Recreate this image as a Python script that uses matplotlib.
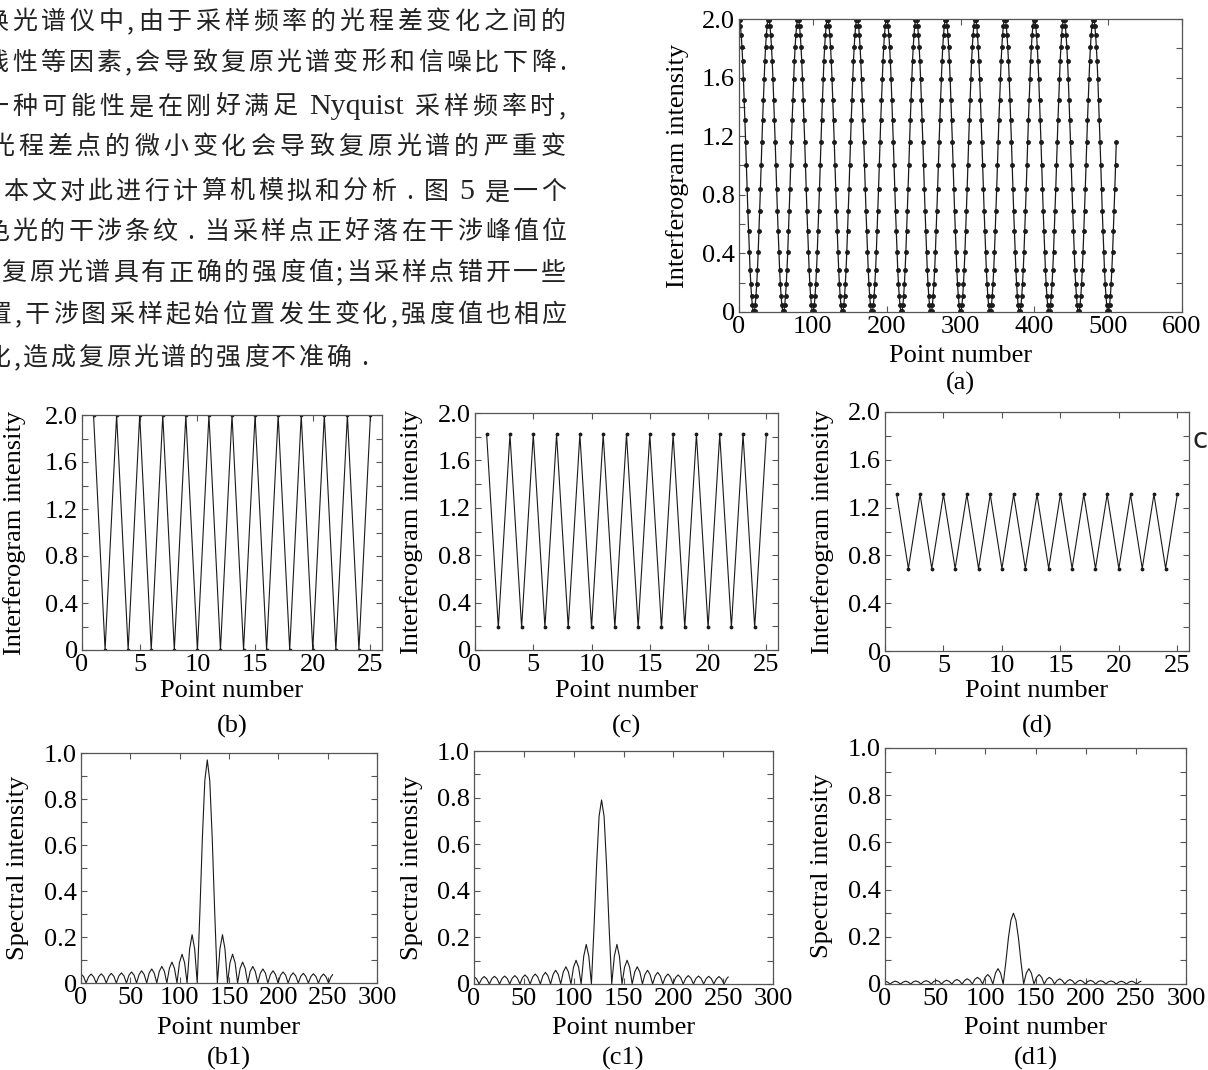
import re
import numpy as np
import matplotlib
matplotlib.use('Agg')
import matplotlib.pyplot as plt
from matplotlib.ticker import MultipleLocator, FuncFormatter

W, H = 1208, 1070
SERIF = 'Liberation Serif'
CJK = ['Noto Sans CJK SC', 'DejaVu Sans']
plt.rcParams['font.family'] = SERIF

# ---- data ----
# (a): one 40-sample period of the interferogram, repeated over 512 points
cycle_a = [2.00, 1.99, 1.95, 1.89, 1.81, 1.71, 1.59, 1.45, 1.31, 1.16,
           1.00, 0.84, 0.69, 0.55, 0.41, 0.29, 0.19, 0.11, 0.05, 0.01,
           0.00, 0.01, 0.05, 0.11, 0.19, 0.29, 0.41, 0.55, 0.69, 0.84,
           1.00, 1.16, 1.31, 1.45, 1.59, 1.71, 1.81, 1.89, 1.95, 1.99]
n_points_a = 512

# (b)(c)(d): 25 sample points
pts = list(range(1, 26))
ifg_b = [2.0, 0.0, 2.0, 0.0, 2.0, 0.0, 2.0, 0.0, 2.0, 0.0, 2.0, 0.0, 2.0,
         0.0, 2.0, 0.0, 2.0, 0.0, 2.0, 0.0, 2.0, 0.0, 2.0, 0.0, 2.0]
ifg_c = [1.82, 0.19, 1.82, 0.19, 1.82, 0.19, 1.82, 0.19, 1.82, 0.19, 1.82, 0.19, 1.82,
         0.19, 1.82, 0.19, 1.82, 0.19, 1.82, 0.19, 1.82, 0.19, 1.82, 0.19, 1.82]
ifg_d = [1.31, 0.69, 1.31, 0.69, 1.31, 0.69, 1.31, 0.69, 1.31, 0.69, 1.31, 0.69, 1.31,
         0.69, 1.31, 0.69, 1.31, 0.69, 1.31, 0.69, 1.31, 0.69, 1.31, 0.69, 1.31]

# (b1)(c1)(d1): recovered spectra
spec_x = [0, 2.6, 5.1,
          7.7, 10.2, 12.8, 15.4, 18.0, 20.5, 23.1, 25.6,
          28.2, 30.7, 33.3, 35.8, 38.4, 41.0, 43.5, 46.1,
          48.6, 51.2, 53.8, 56.3, 58.9, 61.4, 64.0, 66.6,
          69.1, 71.7, 74.2, 76.8, 79.4, 81.9, 84.5, 87.0,
          89.6, 92.2, 94.7, 97.3, 99.8, 102.4, 105.0, 107.5,
          110.1, 112.6, 115.2, 117.8,
          120.5, 123.0, 125.5, 128.0, 130.5, 133.0, 135.5, 138.2,
          140.8, 143.4, 145.9, 148.5, 151.0, 153.6, 156.2, 158.7,
          161.3, 163.8, 166.4, 169.0, 171.5, 174.1, 176.6, 179.2,
          181.8, 184.3, 186.9, 189.4, 192.0, 194.6, 197.1, 199.7,
          202.2, 204.8, 207.4, 209.9, 212.5, 215.0, 217.6, 220.2,
          222.7, 225.3, 227.8, 230.4, 233.0, 235.5, 238.1, 240.6,
          243.2, 245.8, 248.3, 250.9,
          253.4, 255.0]
spec_b1 = [0.039, 0.028, 0.0,
           0.027, 0.039, 0.027, 0.0, 0.028, 0.040, 0.028, 0.0,
           0.029, 0.042, 0.029, 0.0, 0.031, 0.044, 0.031, 0.0,
           0.034, 0.048, 0.034, 0.0, 0.037, 0.053, 0.037, 0.0,
           0.043, 0.061, 0.043, 0.0, 0.051, 0.072, 0.051, 0.0,
           0.064, 0.091, 0.064, 0.0, 0.088, 0.125, 0.088, 0.0,
           0.148, 0.210, 0.148, 0.0,
           0.31, 0.63, 0.88, 0.97, 0.88, 0.63, 0.31, 0.0,
           0.148, 0.210, 0.148, 0.0, 0.088, 0.125, 0.088, 0.0,
           0.064, 0.091, 0.064, 0.0, 0.051, 0.072, 0.051, 0.0,
           0.043, 0.061, 0.043, 0.0, 0.037, 0.053, 0.037, 0.0,
           0.034, 0.048, 0.034, 0.0, 0.031, 0.044, 0.031, 0.0,
           0.029, 0.042, 0.029, 0.0, 0.028, 0.040, 0.028, 0.0,
           0.027, 0.039, 0.027, 0.0,
           0.027, 0.036]
spec_c1 = [0.032, 0.022, 0.0,
           0.022, 0.032, 0.022, 0.0, 0.023, 0.033, 0.023, 0.0,
           0.024, 0.034, 0.024, 0.0, 0.025, 0.036, 0.025, 0.0,
           0.027, 0.039, 0.027, 0.0, 0.030, 0.043, 0.030, 0.0,
           0.035, 0.050, 0.035, 0.0, 0.041, 0.059, 0.041, 0.0,
           0.052, 0.074, 0.052, 0.0, 0.071, 0.102, 0.071, 0.0,
           0.119, 0.170, 0.119, 0.0,
           0.25, 0.51, 0.72, 0.79, 0.72, 0.51, 0.25, 0.0,
           0.119, 0.170, 0.119, 0.0, 0.071, 0.102, 0.071, 0.0,
           0.052, 0.074, 0.052, 0.0, 0.041, 0.059, 0.041, 0.0,
           0.035, 0.050, 0.035, 0.0, 0.030, 0.043, 0.030, 0.0,
           0.027, 0.039, 0.027, 0.0, 0.025, 0.036, 0.025, 0.0,
           0.024, 0.034, 0.024, 0.0, 0.023, 0.033, 0.023, 0.0,
           0.022, 0.032, 0.022, 0.0,
           0.022, 0.030]
spec_d1 = [0.012, 0.008, 0.0,
           0.008, 0.012, 0.008, 0.0, 0.008, 0.012, 0.008, 0.0,
           0.009, 0.013, 0.009, 0.0, 0.010, 0.014, 0.010, 0.0,
           0.011, 0.015, 0.011, 0.0, 0.011, 0.016, 0.011, 0.0,
           0.013, 0.019, 0.013, 0.0, 0.015, 0.022, 0.015, 0.0,
           0.020, 0.028, 0.020, 0.0, 0.028, 0.040, 0.028, 0.0,
           0.046, 0.065, 0.046, 0.0,
           0.095, 0.195, 0.27, 0.30, 0.27, 0.195, 0.095, 0.0,
           0.046, 0.065, 0.046, 0.0, 0.028, 0.040, 0.028, 0.0,
           0.020, 0.028, 0.020, 0.0, 0.015, 0.022, 0.015, 0.0,
           0.013, 0.019, 0.013, 0.0, 0.011, 0.016, 0.011, 0.0,
           0.011, 0.015, 0.011, 0.0, 0.010, 0.014, 0.010, 0.0,
           0.009, 0.013, 0.009, 0.0, 0.008, 0.012, 0.008, 0.0,
           0.008, 0.012, 0.008, 0.0,
           0.008, 0.011]

# body text to the left of (a): (text, left px, right px, centre y px)
body = [
    ('换光谱仪中,由于采样频率的光程差变化之间的', -17, 566, 22),
    ('线性等因素,会导致复原光谱变形和信噪比下降.', -16, 566, 63),
    ('一种可能性是在刚好满足 Nyquist 采样频率时,', -16, 566, 107),
    ('光程差点的微小变化会导致复原光谱的严重变', -11, 566, 147),
    ('本文对此进行计算机模拟和分析 . 图 5 是一个', 3, 566, 192),
    ('色光的干涉条纹 . 当采样点正好落在干涉峰值位', -16, 566, 232),
    ('复原光谱具有正确的强度值;当采样点错开一些', 1, 566, 273),
    ('置,干涉图采样起始位置发生变化,强度值也相应', -13, 566, 315),
    ('化,造成复原光谱的强度不准确 .', -14, 368, 358),
]
SPACE_PX = 7

LABEL_FS = 19
LINE_C = '#1a1a1a'
SPINE_C = '#555555'


def px_axes(l, r, t, b):
    return fig.add_axes([l / W, 1 - b / H, (r - l) / W, (b - t) / H])


def style(ax, xmax, xstep, ymax, ystep, yminor):
    ax.set_xlim(0, xmax)
    ax.set_ylim(0, ymax)
    ax.xaxis.set_major_locator(MultipleLocator(xstep))
    ax.yaxis.set_major_locator(MultipleLocator(ystep))
    ax.yaxis.set_minor_locator(MultipleLocator(yminor))
    ax.yaxis.set_major_formatter(FuncFormatter(lambda v, p: '0' if abs(v) < 1e-9 else f'{v:.1f}'))
    ax.xaxis.set_major_formatter(FuncFormatter(lambda v, p: f'{v:.0f}'))
    ax.tick_params(which='both', direction='in', top=True, right=True,
                   length=4, width=0.8, color=SPINE_C, labelsize=LABEL_FS, pad=3)
    for s in ax.spines.values():
        s.set_color(SPINE_C)
        s.set_linewidth(0.9)


def labels(l, r, t, b, ylab, ylab_x, xlab_y, tag, tag_y):
    cx = (l + r) / 2 / W
    fig.text(cx, 1 - xlab_y / H, 'Point number', ha='center', va='center', fontsize=LABEL_FS)
    fig.text(cx, 1 - tag_y / H, tag, ha='center', va='center', fontsize=LABEL_FS)
    fig.text(ylab_x / W, 1 - (t + b) / 2 / H, ylab, ha='center', va='center',
             rotation=90, fontsize=LABEL_FS)


fig = plt.figure(figsize=(W / 100, H / 100), dpi=100)
renderer = fig.canvas.get_renderer()

# ---- body text, justified between left and right edges ----
for line, x0, x1, yc in body:
    toks = re.findall(r'[A-Za-z0-9]+|\S| ', line)
    arts, extra = [], []
    pending = 0
    for tok in toks:
        if tok == ' ':
            pending += SPACE_PX
            continue
        if re.match(r'[A-Za-z0-9]', tok):
            fam, fs = [SERIF], 21.5
        else:
            fam, fs = CJK, 18
        arts.append(fig.text(0, 1 - yc / H, tok, fontsize=fs, family=fam,
                             color='#222222', ha='left', va='center'))
        extra.append(pending)
        pending = 0
    widths = [a.get_window_extent(renderer).width for a in arts]
    gap = (x1 - x0 - sum(widths) - sum(extra)) / max(len(arts) - 1, 1)
    x = x0
    for a, w, e in zip(arts, widths, extra):
        x += e
        a.set_x(x / W)
        x += w + gap

fig.text(1192 / W, 1 - 440 / H, 'c', fontsize=20, family='DejaVu Sans',
         ha='left', va='center', color='#222222')

# ---- (a) ----
x_a = np.arange(n_points_a)
y_a = np.tile(cycle_a, n_points_a // len(cycle_a) + 1)[:n_points_a]
ax = px_axes(739, 1182, 19, 312)
ax.plot(x_a, y_a, color=LINE_C, lw=0.9, marker='.', ms=5)
style(ax, 600, 100, 2.0, 0.4, 0.2)
labels(739, 1182, 19, 312, 'Interferogram intensity', 678, 356, '(a)', 383)

# ---- (b)(c)(d) ----
ifg_boxes = [(82, 382, 415, 650, 15), (475, 778, 413, 650, 412), (885, 1189, 412, 651, 823)]
for (l, r, t, b, yx), vals, tag in zip(ifg_boxes, [ifg_b, ifg_c, ifg_d], ['(b)', '(c)', '(d)']):
    ax = px_axes(l, r, t, b)
    ax.plot(pts, vals, color=LINE_C, lw=0.8, marker='.', ms=3.5)
    style(ax, 26, 5, 2.0, 0.4, 0.2)
    labels(l, r, t, b, 'Interferogram intensity', yx, 691, tag, 726)

# ---- (b1)(c1)(d1) ----
spec_boxes = [(81, 377, 753, 983, 18), (474, 773, 751, 984, 412), (885, 1186, 748, 984, 822)]
for (l, r, t, b, yx), vals, tag in zip(spec_boxes, [spec_b1, spec_c1, spec_d1], ['(b1)', '(c1)', '(d1)']):
    ax = px_axes(l, r, t, b)
    ax.plot(spec_x, vals, color=LINE_C, lw=0.8)
    style(ax, 300, 50, 1.0, 0.2, 0.1)
    labels(l, r, t, b, 'Spectral intensity', yx, 1028, tag, 1058)

fig.savefig('out.png', dpi=100, facecolor='white')
